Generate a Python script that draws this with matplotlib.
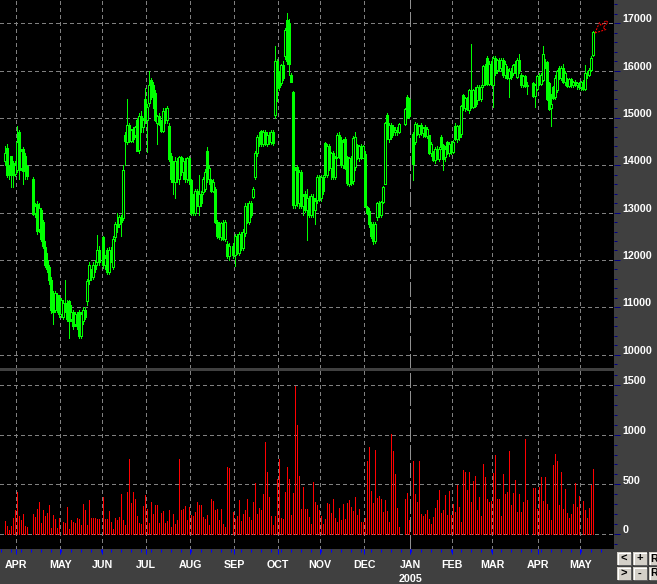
import numpy as np
import matplotlib
matplotlib.use("Agg")
import matplotlib.pyplot as plt
import matplotlib.transforms as mtransforms
from matplotlib.patches import Rectangle, Polygon
from matplotlib.lines import Line2D

plt.rcParams['font.family'] = ['Liberation Sans', 'DejaVu Sans']

N = None  # no trading / no data that day

# daily bars, late Mar 2004 .. mid May 2005
opens = [
    14080, 14360, 13950, 14190, 14050, 13820, 13900, 14700, 13950, 14350,
    14200, 13980, N, N, 13710, 13000, 13190, 12650, 13050, 12800,
    12270, 12000, 11850, 11570, 11300, 10950, 11250, 11200, 10850, 10800,
    11100, 11050, 11130, 10750, 10900, 10650, 10850, 10890, 10400, 10700,
    10950, 11130, 11580, 11700, 11650, 11900, 11950, 12200, N, 12480,
    11900, 12200, 11750, 12200, 11850, 12480, 12750, 12760, 12900, 12890,
    14630, 14500, 14850, 14520, 14770, 14650, 14950, 14320, 15050, 14800,
    15400, 14950, 15310, 15800, 15700, 15520, 14900, 15050, 14930, 14720,
    15100, 14950, 14830, 14200, 14030, 13650, 14100, 13700, 14170, 13850,
    14100, 13700, 14150, 13680, 13300, 13000, 13450, 13150, 13400, 13440,
    13500, 14300, 13700, 13680, 13450, 13500, 12800, 12740, 12480, 12780,
    12450, 12330, 12080, N, 12300, 12100, 12500, 12150, 12550, 12250,
    12570, 13150, 12800, 13200, 13330, 13750, 14270, 14600, 14720, 14450,
    14700, 14450, 14650, 14500, 14700, 15070, 16200, 15980, 15730, 16120,
    16300, 17070, 17000, 15900, 15540, 13160, 13970, 13200, 13850, 13150,
    13400, 13050, 13300, 12950, 13300, 13050, 13270, 13750, 13300, 13750,
    14470, 13800, 14400, 13950, 14250, 13750, 14180, 14650, 14540, 14000,
    14560, 14180, 13600, 14150, 13660, 13960, 14420, 14160, 14400, 14160,
    14240, 13110, 13040, 12750, 12760, 12400, 12900, 13200, 12950, 13220,
    13610, 15060, 14560, 14850, 14800, 14700, 14750, 14700, N, N,
    14880, 15440, 15400, N, 14670, 14490, 14850, 14670, 14850, 14680,
    14800, 14620, 14630, 14260, 14280, 14120, 14350, 14140, 14600, 14420,
    14170, 14490, 14260, 14450, 14280, 14840, 14550, 14820, 14670, 15480,
    15200, 15420, 15160, 15600, 15230, 15600, 15370, 15650, 15400, 15690,
    16100, 16260, 15720, 16150, 15690, 16260, 16010, 16220, 16050, 16230,
    15900, 16040, 15850, 16000, 15940, 16150, 15870, 16230, 15900, 15700,
    15880, 15680, N, N, 15730, 15460, 15620, 15880, 15720, 15800,
    16190, 16190, 15730, 15200, 15650, 15440, 15600, 16050, 15850, 16050,
    15750, 15830, 15680, 15820, 15700, 15750, 15700, 15740, 15650, 15760,
    15620, 15940, 15900, 16010, 16340,
]
highs = [
    14400, 14450, 14000, 14200, 14100, 14080, 14830, 14750, 14350, 14380,
    14250, 14000, N, N, 13750, 13200, 13250, 13200, 13100, 12850,
    12400, 12150, 11900, 11650, 11350, 11350, 11300, 11250, 11200, 11150,
    11570, 11150, 11150, 11050, 10950, 10900, 10900, 10950, 10900, 11000,
    11000, 11600, 11950, 11800, 11950, 12000, 12520, 12300, N, 12500,
    12100, 12250, 12270, 12270, 12500, 12800, 13000, 12940, 12950, 14000,
    14700, 15390, 14900, 14770, 14800, 14820, 15000, 15100, 15150, 15000,
    15630, 15300, 16000, 15850, 15750, 15600, 15070, 15100, 14950, 15200,
    15200, 15250, 14900, 14250, 14100, 14170, 14150, 14200, 14200, 14150,
    14150, 14170, 14200, 13700, 13400, 13500, 13500, 13800, 13450, 13750,
    13920, 14380, 14000, 13700, 13700, 13550, 12850, 12800, 12810, 12850,
    12850, 12400, 12350, N, 12350, 12540, 12550, 12600, 12600, 12650,
    13200, 13200, 13250, 13250, 13540, 14300, 14650, 14700, 14750, 14750,
    14750, 14700, 14700, 14750, 14750, 16520, 16250, 16000, 16150, 16200,
    16900, 17210, 17100, 15950, 15560, 13970, 14000, 13900, 13900, 13400,
    13450, 13500, 13350, 13400, 13400, 13300, 13800, 13800, 13800, 13800,
    14500, 14450, 14450, 14290, 14300, 14200, 14680, 14700, 14600, 14550,
    14600, 14200, 14170, 14200, 14610, 14700, 14450, 14420, 14450, 14420,
    14300, 13150, 13100, 12800, 12800, 12800, 13220, 13250, 13250, 13570,
    14920, 15100, 14900, 14900, 14850, 14800, 14800, 14900, N, N,
    15200, 15480, 15420, N, 14700, 14910, 14900, 14850, 14900, 14800,
    14850, 14800, 14650, 14500, 14300, 14380, 14400, 14380, 14650, 14450,
    14400, 14520, 14500, 14520, 14530, 14900, 14850, 14850, 15270, 15500,
    15450, 15450, 15620, 16560, 15620, 15650, 15690, 15700, 15690, 16120,
    16150, 16300, 16200, 16200, 16300, 16300, 16250, 16260, 16260, 16260,
    16200, 16100, 16050, 16050, 16150, 16200, 16260, 16360, 15950, 15900,
    15900, 15750, N, N, 15750, 15720, 15900, 15950, 15950, 16520,
    16250, 16200, 15750, 15500, 15680, 15900, 16010, 16100, 16100, 16150,
    16000, 15850, 15850, 15850, 15780, 15800, 15760, 15760, 15780, 15800,
    16120, 16000, 16050, 16300, 16830,
]
lows = [
    14000, 13750, 13700, 13540, 13550, 13780, 13850, 13700, 13900, 13600,
    13700, 13700, N, N, 12950, 12900, 12550, 12600, 12400, 12250,
    11850, 11750, 11500, 10870, 10650, 10900, 10900, 10800, 10800, 10750,
    10900, 10700, 10350, 10700, 10540, 10600, 10550, 10350, 10350, 10650,
    10750, 11050, 11500, 11580, 11600, 11750, 11900, 11900, N, 11840,
    11800, 11700, 11700, 11950, 11800, 12400, 12600, 12700, 12500, 12850,
    14000, 14450, 14490, 14500, 14500, 14600, 14300, 14250, 14700, 14700,
    14900, 14280, 15250, 15400, 15200, 14930, 14450, 14860, 14700, 14700,
    14900, 14900, 14100, 13650, 13400, 13300, 13650, 13600, 13800, 13700,
    13650, 13650, 13600, 12950, 12950, 12950, 13130, 12950, 13130, 13400,
    13450, 13650, 13600, 13440, 13440, 12780, 12460, 12450, 12430, 12430,
    12400, 12050, 12000, N, 12050, 11880, 12120, 12100, 12200, 12200,
    12500, 12780, 12750, 12900, 13300, 13700, 14200, 14400, 14410, 14400,
    14420, 14400, 14450, 14450, 14420, 15000, 15350, 15600, 15700, 15800,
    16250, 16150, 15900, 15750, 13100, 13100, 13150, 13100, 13100, 12950,
    13020, 12420, 12900, 12900, 12900, 12750, 13200, 13250, 13250, 13400,
    13760, 13750, 13900, 13700, 13700, 13700, 14150, 14150, 13970, 13950,
    13920, 13590, 13570, 13590, 13600, 13900, 14140, 14100, 14140, 14150,
    13110, 12970, 12700, 12470, 12330, 12350, 12850, 12900, 12900, 13200,
    13600, 14560, 14500, 14550, 14650, 14650, 14650, 14680, N, N,
    14850, 15000, 15000, N, 13680, 14450, 14650, 14600, 14650, 14600,
    14600, 14580, 14240, 14200, 14100, 14050, 14140, 14100, 14350, 13890,
    14100, 14240, 14200, 14240, 14250, 14530, 14500, 14530, 14600, 15160,
    15150, 15160, 15100, 15200, 15200, 15230, 15300, 15370, 15350, 15650,
    15700, 15690, 15700, 15690, 15230, 15900, 15950, 16000, 16000, 15870,
    15850, 15830, 15440, 15830, 15900, 15940, 15850, 15950, 15660, 15650,
    15660, 15500, N, N, 15440, 15230, 15600, 15700, 15700, 15780,
    16050, 15370, 15160, 14840, 15400, 15400, 15550, 15830, 15800, 15730,
    15700, 15660, 15650, 15660, 15650, 15680, 15620, 15620, 15600, 15600,
    15600, 15850, 15880, 16000, 16300,
]
closes = [
    14270, 13790, 13800, 13850, 13800, 14000, 14490, 13890, 14300, 13880,
    13900, 13780, N, N, 12980, 13150, 12620, 13100, 12450, 12300,
    11900, 11800, 11580, 10950, 10900, 11300, 10950, 10850, 11150, 11100,
    11000, 10750, 10700, 10900, 10600, 10850, 10600, 10400, 10850, 10950,
    10800, 11560, 11900, 11650, 11900, 11800, 12200, 11950, N, 11900,
    12050, 11750, 12200, 12000, 12450, 12750, 12700, 12900, 12800, 13890,
    14520, 14850, 14550, 14750, 14550, 14800, 14310, 15050, 14800, 14950,
    14950, 15240, 15700, 15450, 15500, 14950, 15050, 14880, 14720, 15150,
    14950, 15200, 14130, 13700, 13650, 14100, 13700, 14170, 13850, 14100,
    13700, 14150, 13680, 13000, 13000, 13450, 13150, 13400, 13200, 13700,
    13850, 13700, 13950, 13450, 13650, 12800, 12500, 12480, 12780, 12450,
    12800, 12080, 12300, N, 12100, 12500, 12150, 12550, 12250, 12600,
    13150, 12800, 13200, 12950, 13500, 14270, 14600, 14450, 14450, 14700,
    14450, 14650, 14500, 14700, 14480, 16200, 15630, 15660, 16120, 15850,
    16860, 16200, 16150, 15770, 13160, 13900, 13200, 13850, 13150, 13350,
    13050, 13300, 12950, 13350, 13050, 13250, 13750, 13300, 13750, 13450,
    13800, 14400, 13950, 14250, 13750, 14150, 14650, 14200, 14000, 14500,
    13950, 13620, 14150, 13620, 14580, 14600, 14160, 14400, 14160, 14400,
    13150, 13000, 12750, 12500, 12400, 12750, 13200, 12950, 13220, 13550,
    14900, 14600, 14850, 14600, 14700, 14750, 14700, 14880, N, N,
    15180, 15020, 15050, N, 14030, 14880, 14700, 14820, 14680, 14780,
    14620, 14760, 14260, 14450, 14120, 14350, 14160, 14350, 14380, 14140,
    14350, 14260, 14450, 14280, 14500, 14550, 14820, 14600, 15250, 15200,
    15420, 15180, 15600, 15250, 15600, 15260, 15650, 15400, 15650, 16100,
    15750, 15720, 16150, 15720, 16260, 15950, 16220, 16050, 16230, 15900,
    16150, 15850, 16000, 15860, 16120, 15960, 16230, 16000, 15700, 15880,
    15680, 15700, N, N, 15460, 15700, 15880, 15720, 15900, 16360,
    16060, 15400, 15180, 15300, 15420, 15850, 15990, 15850, 16050, 15750,
    15950, 15680, 15820, 15700, 15750, 15700, 15740, 15650, 15760, 15620,
    15940, 15900, 16010, 16260, 16810,
]
volumes = [
    130, 80, 40, 80, 160, 240, 420, 180, 140, 200,
    80, 70, N, N, 200, 170, 250, 320, 110, 240,
    180, 210, 290, 60, 190, 150, 60, 160, N, 120,
    110, 270, 50, 140, 120, 110, 160, 150, 90, 300,
    240, 90, 340, 160, 160, 160, 150, 150, N, 370,
    150, 150, 230, 120, 50, 160, 140, 170, 400, 140,
    90, 420, 760, 310, 420, 350, 180, 110, 100, 280,
    390, 250, 110, 320, 200, 290, 290, 110, 210, 230,
    110, 130, 240, 70, 200, 100, 140, 760, 240, 250,
    280, 140, 270, 190, 180, 220, 320, 290, 290, 170,
    150, 190, 90, 350, 330, 240, 250, 140, 250, 100,
    70, 670, 660, N, 220, 150, 180, 340, 130, 200,
    240, 350, 170, 140, 320, 510, 200, 260, 240, 400,
    930, 620, 370, 180, 90, 180, 550, 760, 160, 150,
    420, 670, 550, 190, 410, 1490, 1100, 580, 250, 470,
    250, 250, 170, 100, 520, 320, 290, 240, 185, 100,
    150, 310, 300, 210, 350, 160, 120, 260, 140, 300,
    150, 310, 340, 270, 230, 370, 190, 250, 120, 120,
    160, 730, 880, 430, 310, 850, 360, 380, 350, 220,
    340, 230, 120, 1010, 840, 600, 260, 70, N, N,
    350, 410, 140, N, 730, 400, 320, 730, 200, 180,
    200, 240, 150, 100, 170, 260, 340, 440, 210, 240,
    390, 190, 430, 190, 300, 220, 490, 270, 120, 640,
    620, 440, 620, 320, 530, 580, 240, 370, 180, 700,
    570, 350, 320, 330, 610, 800, 350, 350, 180, 600,
    400, 420, 840, 290, 410, 540, 220, 400, 220, 320,
    960, 340, N, N, 460, 460, 250, 470, 570, 330,
    570, 300, 240, 140, 690, 810, 730, 290, 620, 250,
    450, 210, 160, 200, 300, 510, 270, 380, N, 330,
    240, 160, 260, 490, 650,
]

month_labels = ["APR", "MAY", "JUN", "JUL", "AUG", "SEP", "OCT",
                "NOV", "DEC", "JAN", "FEB", "MAR", "APR", "MAY"]
month_first_bar = [6, 28, 49, 71, 93, 115, 137, 158, 180, 203, 224, 244, 267, 288]
year_label = "2005"
year_month = 9  # index of JAN
price_ticks = [10000, 11000, 12000, 13000, 14000, 15000, 16000, 17000]
volume_ticks = [0, 500, 1000, 1500]

W, H = 657, 584
BG = '#404040'
GREEN = '#00ff00'
RED = '#ff0000'
GRID = '#808080'
NAVY = '#000080'
BLUE = '#0000ff'
PX = 0.72  # one pixel in points

o = np.array(opens, dtype=float)
h = np.array(highs, dtype=float)
l = np.array(lows, dtype=float)
c = np.array(closes, dtype=float)
v = np.array(volumes, dtype=float)
x = np.arange(len(c))

fig = plt.figure(figsize=(W / 100, H / 100), dpi=100, facecolor=BG)
ax_p = fig.add_axes([0, (H - 368) / H, 614 / W, 368 / H])
ax_v = fig.add_axes([0, (H - 549) / H, 614 / W, (549 - 371) / H])

for ax in (ax_p, ax_v):
    ax.set_facecolor('black')
    ax.set_xlim(-2.5, 304.5)
    for s in ax.spines.values():
        s.set_visible(False)

ax_p.set_ylim(9717, 17492)
ax_v.set_ylim(-151, 1641)

# grid
grid_x = [b - 0.35 for b in month_first_bar]
for ax in (ax_p, ax_v):
    for k, gx in enumerate(grid_x):
        if k == year_month:
            ax.axvline(gx, color='#909090', lw=PX, dashes=(14, 3), antialiased=False, zorder=1)
        else:
            ax.axvline(gx, color=GRID, lw=PX, dashes=(3, 3), antialiased=False, zorder=1)
for yv in price_ticks:
    ax_p.axhline(yv, color=GRID, lw=PX, dashes=(3, 3), antialiased=False, zorder=1)
for yv in volume_ticks:
    ax_v.axhline(yv, color=GRID, lw=PX, dashes=(3, 3), antialiased=False, zorder=1)

# candles: hollow = up day, filled = down day
ok = ~np.isnan(c)
up = ok & (c >= o)
dn = ok & (c < o)
ax_p.vlines(x[ok], l[ok], h[ok], color=GREEN, lw=PX, antialiased=False, zorder=2)
ax_p.bar(x[up], np.maximum(c[up] - o[up], 15), bottom=o[up], width=1.0,
         facecolor='black', edgecolor=GREEN, lw=PX, antialiased=False, zorder=3)
ax_p.bar(x[dn], o[dn] - c[dn], bottom=c[dn], width=1.0,
         facecolor=GREEN, edgecolor=GREEN, lw=PX, antialiased=False, zorder=3)

# volume
okv = ~np.isnan(v)
ax_v.vlines(x[okv], 0, v[okv], color=RED, lw=PX, antialiased=False, zorder=2)

# right axis ticks
ax_p.yaxis.tick_right()
ax_p.set_yticks(price_ticks)
ax_p.set_yticks(np.arange(9800, 17500, 200), minor=True)
ax_v.yaxis.tick_right()
ax_v.set_yticks(volume_ticks)
ax_v.set_yticks(np.arange(-100, 1700, 100), minor=True)
for ax in (ax_p, ax_v):
    ax.tick_params(axis='y', which='major', length=4.3, width=PX, color=NAVY,
                   right=True, left=False, labelright=False, labelleft=False)
    ax.tick_params(axis='y', which='minor', length=2, width=PX, color=NAVY,
                   right=True, left=False)
ax_p.tick_params(axis='x', which='both', bottom=False, labelbottom=False)

ax_v.set_xticks(grid_x)
ax_v.set_xticks(np.arange(-2.25, 298, 5), minor=True)
ax_v.tick_params(axis='x', which='major', length=3.3, width=PX, color=BLUE,
                 direction='out', labelbottom=False)
ax_v.tick_params(axis='x', which='minor', length=2, width=PX, color=BLUE,
                 direction='out')

lab = dict(color='white', fontsize=7.7, fontweight='bold')
for yv in price_ticks:
    ax_p.annotate(f"{yv}", xy=(1, yv), xycoords=('axes fraction', 'data'),
                  xytext=(6.3, 0.6), textcoords='offset points',
                  ha='left', va='baseline', annotation_clip=False, **lab)
for yv in volume_ticks:
    ax_v.annotate(f"{yv}", xy=(1, yv), xycoords=('axes fraction', 'data'),
                  xytext=(6.3, 0.6), textcoords='offset points',
                  ha='left', va='baseline', annotation_clip=False, **lab)

# month labels under the volume panel
tr = mtransforms.blended_transform_factory(ax_v.transData, fig.transFigure)
for name, gx in zip(month_labels, grid_x):
    fig.text(gx, 15.7 / H, name, transform=tr, ha='center', va='baseline', **lab)
fig.text(grid_x[year_month], 2.3 / H, year_label, transform=tr,
         ha='center', va='baseline', **lab)

# red dotted marker arrow pointing at the last bar
pix = mtransforms.IdentityTransform()
tip = (595.0, H - 33.0)
arrow_pts = [tip, (599.5, H - 22.5), (601.0, H - 25.5), (606.0, H - 20.5),
             (608.0, H - 22.5), (603.0, H - 27.5), (606.0, H - 29.5)]
fig.add_artist(Polygon(arrow_pts, closed=True, transform=pix, fill=False,
                       edgecolor=RED, lw=PX, ls=(0, (2, 1.2))))

# scroll / zoom buttons at the bottom right


def button(bx, by, bw, bh, text, left_text=False):
    fy = H - by - bh
    fig.add_artist(Rectangle((bx, fy), bw, bh, transform=pix,
                             facecolor='#d4d0c8', edgecolor='none'))
    fig.add_artist(Line2D([bx + 0.5, bx + 0.5, bx + bw - 0.5], [fy + 0.5, fy + bh - 0.5, fy + bh - 0.5],
                          transform=pix, color='white', lw=PX))
    fig.add_artist(Line2D([bx + 0.5, bx + bw - 0.5, bx + bw - 0.5], [fy + 0.5, fy + 0.5, fy + bh - 0.5],
                          transform=pix, color='#606060', lw=PX))
    if left_text:
        fig.text(bx + 1, fy + bh / 2, text, transform=pix, ha='left', va='center',
                 color='black', fontsize=7.5, fontweight='bold')
    else:
        fig.text(bx + bw / 2, fy + bh / 2, text, transform=pix, ha='center', va='center',
                 color='black', fontsize=8, fontweight='bold')


button(617, 552, 14, 13, "<")
button(633, 552, 14, 13, "+")
button(649, 552, 14, 13, "R", left_text=True)
button(617, 567, 14, 13, ">")
button(633, 567, 14, 13, "-")
button(649, 567, 14, 13, "R", left_text=True)

fig.savefig("out.png", dpi=100, facecolor=BG)
